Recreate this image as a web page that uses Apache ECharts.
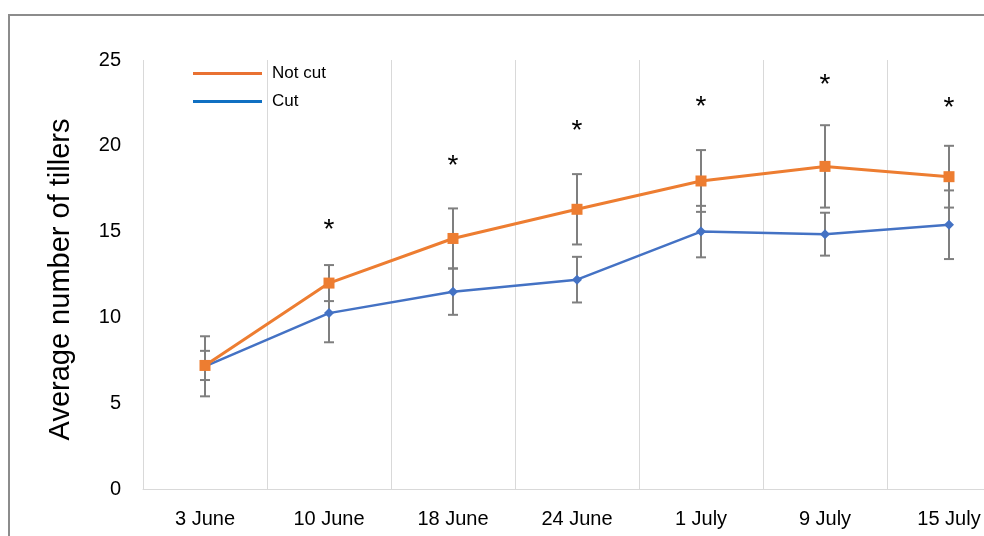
<!DOCTYPE html>
<html><head><meta charset="utf-8">
<script src="https://cdn.jsdelivr.net/npm/echarts@6/dist/echarts.min.js"></script>
<style>html,body{margin:0;padding:0;background:#fff;overflow:hidden}#c{width:1040px;height:536px}</style>
</head><body><div id="c"></div>
<script>
const categories = ['3 June','10 June','18 June','24 June','1 July','9 July','15 July'];
const notCut = [7.2, 12.0, 14.6, 16.3, 17.95, 18.8, 18.2];
const notCutErr = [0.85, 1.05, 1.75, 2.05, 1.8, 2.4, 1.8];
const cut = [7.15, 10.25, 11.5, 12.2, 15.0, 14.85, 15.4];
const cutErr = [1.75, 1.7, 1.35, 1.33, 1.5, 1.25, 2.0];
const starCats = ['10 June','18 June','24 June','1 July','9 July','15 July'];
const starY = [15.05, 18.8, 20.85, 22.25, 23.55, 22.2];
const yTicks = [0, 5, 10, 15, 20, 25];

const FONT = 'Liberation Sans, Arial, sans-serif';
const ORANGE = '#ED7D31', BLUE = '#4472C4';

function errData(vals, errs){ return vals.map((v,i)=>[i, v-errs[i], v+errs[i]]); }
function errRender(params, api){
  const x = api.coord([api.value(0), api.value(1)]);
  const y2 = api.coord([api.value(0), api.value(2)]);
  const w = 5;
  const st = {stroke:'#7F7F7F', lineWidth:2};
  return {type:'group', children:[
    {type:'line', shape:{x1:x[0], y1:x[1], x2:x[0], y2:y2[1]}, style:st},
    {type:'line', shape:{x1:x[0]-w, y1:x[1], x2:x[0]+w, y2:x[1]}, style:st},
    {type:'line', shape:{x1:x[0]-w, y1:y2[1], x2:x[0]+w, y2:y2[1]}, style:st}
  ]};
}

const chart = echarts.init(document.getElementById('c'));
chart.setOption({
  animation:false,
  backgroundColor:'#fff',
  graphic:[{type:'rect', shape:{x:9, y:15, width:1020, height:600}, style:{fill:'none', stroke:'#8C8C8C', lineWidth:2}, z:100}],
  legend:{
    orient:'vertical', left:193, top:65, padding:0, itemWidth:69, itemHeight:3, itemGap:11,
    textStyle:{fontFamily:FONT, fontSize:17, color:'#000', padding:[0,0,0,5]},
    data:[
      {name:'Not cut', icon:'rect', itemStyle:{color:'#E97132'}},
      {name:'Cut', icon:'rect', itemStyle:{color:'#1070C2'}}
    ]
  },
  grid:{left:143, top:60, right:29, bottom:47, containLabel:false},
  xAxis:{
    type:'category', data:categories, boundaryGap:true,
    axisLine:{show:true, lineStyle:{color:'#D9D9D9', width:1}},
    axisTick:{show:false},
    splitLine:{show:true, lineStyle:{color:'#D9D9D9', width:1}},
    axisLabel:{fontFamily:FONT, fontSize:20, color:'#000', margin:20, interval:0}
  },
  yAxis:{
    type:'value', min:0, max:25, interval:5,
    name:'Average number of tillers', nameLocation:'middle', nameGap:68, nameRotate:90,
    nameTextStyle:{fontFamily:FONT, fontSize:29, color:'#000', padding:[0,10,0,0]},
    axisLine:{show:false}, axisTick:{show:false}, splitLine:{show:false},
    axisLabel:{fontFamily:FONT, fontSize:20, color:'#000', margin:22,
      formatter:v=> yTicks.includes(v) ? String(v) : ''}
  },
  series:[
    {type:'custom', name:'errCut', data:errData(cut, cutErr), renderItem:errRender, z:1, silent:true},
    {type:'custom', name:'errNot', data:errData(notCut, notCutErr), renderItem:errRender, z:1, silent:true},
    {type:'line', name:'Cut', data:cut, z:3, symbol:'diamond', symbolSize:10,
      lineStyle:{color:BLUE, width:2.5}, itemStyle:{color:BLUE}},
    {type:'line', name:'Not cut', data:notCut, z:4, symbol:'rect', symbolSize:11,
      lineStyle:{color:ORANGE, width:3}, itemStyle:{color:ORANGE}},
    {type:'custom', name:'stars', data:starCats.map((c,i)=>[categories.indexOf(c), starY[i]]),
      renderItem:(p,api)=>{const pt=api.coord([api.value(0), api.value(1)]);
        return {type:'text', style:{text:'*', x:pt[0], y:pt[1], align:'center', verticalAlign:'middle',
          fontFamily:FONT, fontSize:28, fill:'#000'}};}, z:5, silent:true}
  ]
});
</script></body></html>
